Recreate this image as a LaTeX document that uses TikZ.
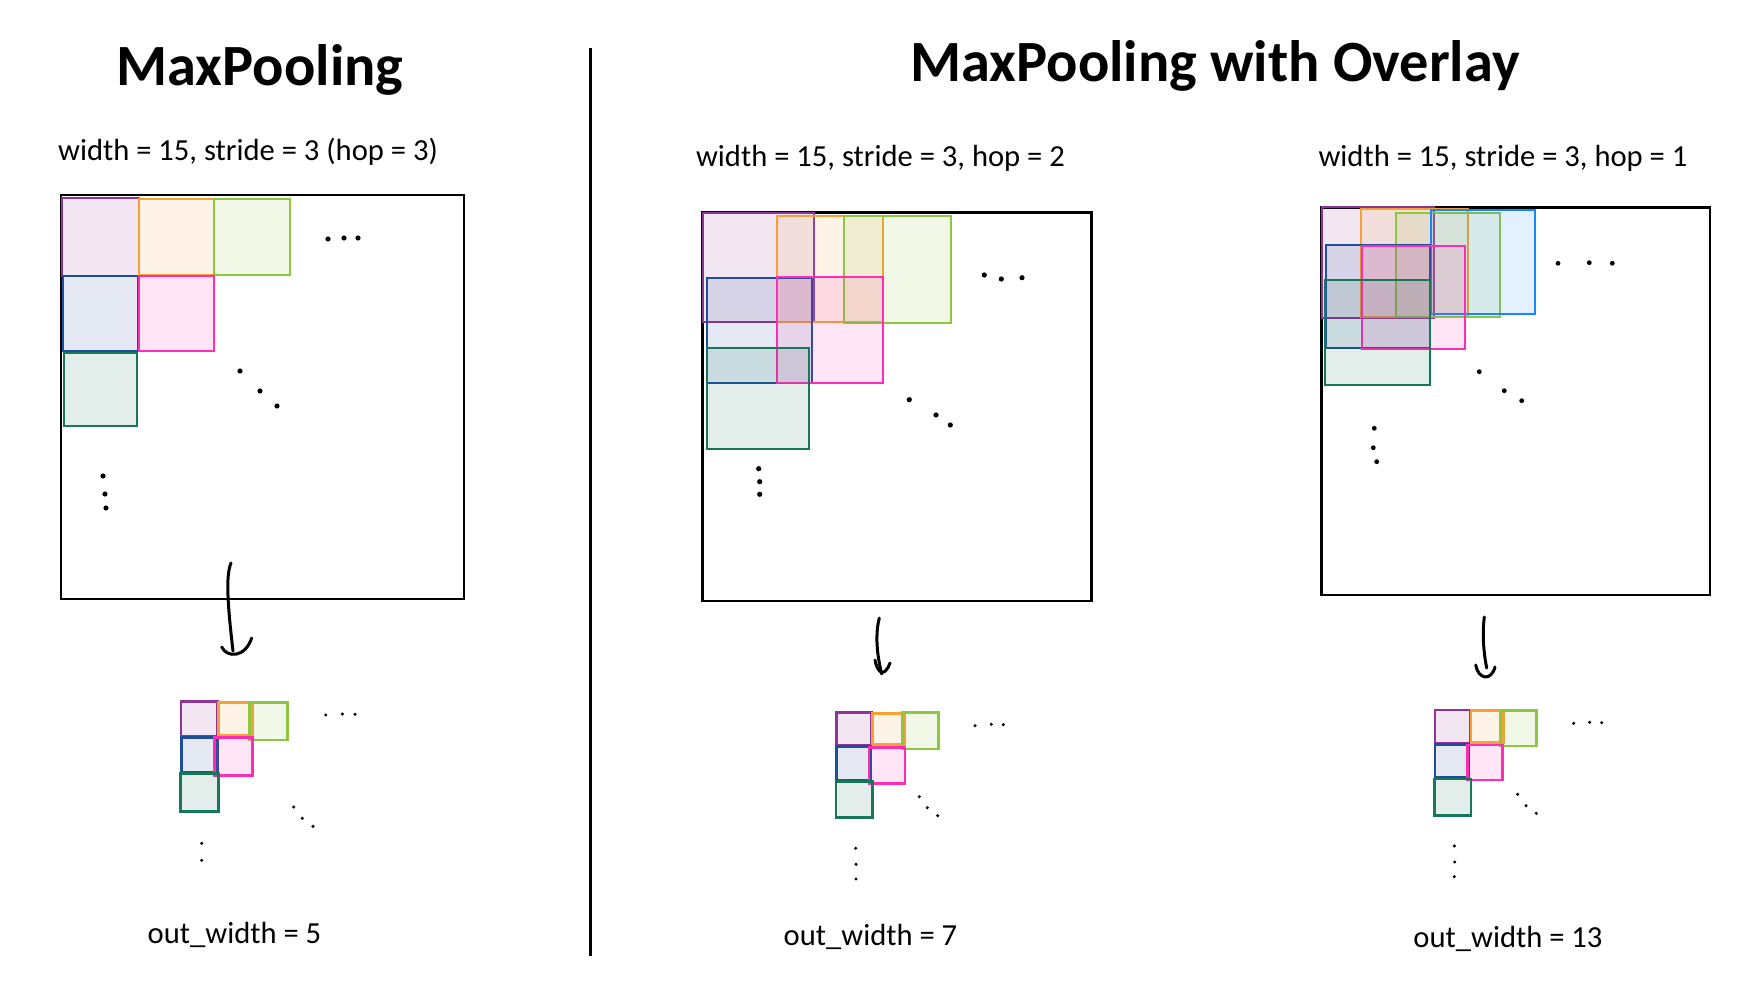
\documentclass[tikz,border=0pt]{standalone}
\usepackage{fontspec}
\setmainfont{Carlito}
\definecolor{cpur}{HTML}{8E3496}
\definecolor{cora}{HTML}{F7A035}
\definecolor{cgre}{HTML}{8DC63F}
\definecolor{cblu}{HTML}{1F4E9A}
\definecolor{cpin}{HTML}{FF2DB4}
\definecolor{ctea}{HTML}{16775A}
\definecolor{clbl}{HTML}{1A85FF}
\begin{document}
\begin{tikzpicture}[x=0.5pt,y=-0.5pt,
  bigbox/.style={draw=black,line width=1.25pt},
  win/.style={line width=1pt,fill opacity=0.12},
  swin/.style={line width=1.4pt,fill opacity=0.12},
  pur/.style={draw=cpur,fill=cpur},
  ora/.style={draw=cora,fill=cora},
  gre/.style={draw=cgre,fill=cgre},
  blu/.style={draw=cblu,fill=cblu},
  pin/.style={draw=cpin,fill=cpin},
  tea/.style={draw=ctea,fill=ctea},
  lbl/.style={draw=clbl,fill=clbl},
  hand/.style={line width=1.5pt,line cap=round,line join=round},
  title/.style={font=\fontsize{29.2}{36}\selectfont\bfseries,anchor=base,inner sep=0pt},
  sub/.style={font=\fontsize{15.3}{18}\selectfont,anchor=base,inner sep=0pt},
]
\useasboundingbox (0,0) rectangle (1758,1000);

% titles and labels
\node[title] (t1) at (260,86) {MaxPooling};
\node[title] (t2) at (1215,82) {MaxPooling with Overlay};
\node[sub] (s1) at (248,160.5) {width = 15, stride = 3 (hop = 3)};
\node[sub] (s2) at (880.5,167) {width = 15, stride = 3, hop = 2};
\node[sub] (s3) at (1503,167) {width = 15, stride = 3, hop = 1};
\node[sub] (o1) at (234.5,943) {out\_width = 5};
\node[sub] (o2) at (870.5,945) {out\_width = 7};
\node[sub] (o3) at (1508,947) {out\_width = 13};

% divider
\coordinate (d1) at (590,48);
\coordinate (d2) at (590,956);
\draw[line width=1.5pt] (d1) -- (d2);

% ===== left panel =====
\draw[bigbox] (61,195) rectangle (464,599);
\draw[win,pur] (61.7,198.3) rectangle (138.7,275.7);
\draw[win,ora] (139.3,199.3) rectangle (214,274.7);
\draw[win,gre] (214.3,199) rectangle (290,274.7);
\draw[win,blu] (62.7,276) rectangle (137.7,351);
\draw[win,pin] (139,275.7) rectangle (214.3,350.7);
\draw[win,tea] (63.7,353) rectangle (136.7,426);
\foreach \p in {(328,239),(344,238),(358,238),(240,371),(260,391),(277,406),(103,476),(105,494),(106,508)}
  \fill \p circle (1.3pt);

\coordinate (a1s) at (231,563);
\coordinate (a1e) at (233,651);
\draw[hand] (a1s) .. controls (226,575) and (227,600) .. (a1e);
\draw[hand] (221.7,647) .. controls (227,658) and (245,658) .. (251.7,638);

\draw[swin,pur] (181,701.7) rectangle (217.7,736.7);
\draw[swin,ora] (218.3,702.3) rectangle (252.3,735.7);
\draw[swin,gre] (249.3,702.3) rectangle (287.3,740);
\draw[swin,blu] (181.3,737.3) rectangle (217.3,772.3);
\draw[swin,pin] (214.3,737.7) rectangle (252.3,775.7);
\draw[swin,tea] (180.7,773.7) rectangle (218.7,811.7);
\foreach \p in {(325.7,715),(342.3,714),(355,714.3),(293.7,807),(302.3,818.3),(313,826.3),(201.7,843.3),(201.7,860.3)}
  \fill \p circle (0.85pt);

% ===== middle panel =====
\draw[bigbox] (702.7,212.7) rectangle (1091.7,601);
\draw[win,pur] (703.3,212.7) rectangle (814,322);
\draw[win,ora] (776.7,215.7) rectangle (882.7,322);
\draw[win,gre] (843.7,215.7) rectangle (950.7,322.7);
\draw[win,blu] (706.7,277.7) rectangle (812.3,382.7);
\draw[win,pin] (776.7,277) rectangle (882.7,382.7);
\draw[win,tea] (706.7,347.7) rectangle (809,449.3);
\foreach \p in {(984.3,275),(1001.3,279),(1022,277.7),(909.3,399.7),(936,415),(950.3,425),(758.7,468.7),(759.7,481.7),(759.7,494.3)}
  \fill \p circle (1.3pt);

\coordinate (a2s) at (879.3,618);
\coordinate (a2e) at (881.7,674);
\draw[hand] (a2s) .. controls (875,635) and (877,655) .. (a2e);
\draw[hand] (875,660) .. controls (877,672) and (884,679) .. (890,663);

\draw[swin,pur] (836.7,712.7) rectangle (871.7,745.7);
\draw[swin,ora] (872.3,713.3) rectangle (905,744.3);
\draw[swin,gre] (902.3,712.7) rectangle (938.3,749);
\draw[swin,blu] (836.7,746.7) rectangle (870.7,780);
\draw[swin,pin] (869,747.7) rectangle (905,783.7);
\draw[swin,tea] (836,781.7) rectangle (872.7,817.7);
\foreach \p in {(975,725.7),(991.3,724.3),(1003.3,724.7),(919.3,796.7),(927.3,807.7),(937.7,815.7),(855.7,848.3),(856,864.3),(856,879)}
  \fill \p circle (0.85pt);

% ===== right panel =====
\draw[bigbox] (1321.7,207.3) rectangle (1710,595);
\draw[win,pur] (1322.3,207.3) rectangle (1434.3,318.3);
\draw[win,ora] (1360.7,209.3) rectangle (1468,317);
\draw[win,gre] (1396,212.7) rectangle (1499.7,316.7);
\draw[win,lbl] (1431,210) rectangle (1535.3,314);
\draw[win,blu] (1325.7,245) rectangle (1430,348.3);
\draw[win,pin] (1361.7,245.7) rectangle (1465,349);
\draw[win,tea] (1324.7,279.7) rectangle (1430.3,384.7);
\foreach \p in {(1558,263.3),(1589.3,262.7),(1612.3,263.3),(1479.3,371.7),(1504.3,390.7),(1521.7,400.7),(1374.3,428.3),(1373.3,447.7),(1376.7,461.7)}
  \fill \p circle (1.2pt);

\coordinate (a3s) at (1484.3,617);
\coordinate (a3e) at (1486.7,668);
\draw[hand] (a3s) .. controls (1482,635) and (1484,655) .. (a3e);
\draw[hand] (1475.7,665) .. controls (1478,679) and (1491,682) .. (1495,667);

\draw[swin,pur] (1435,710) rectangle (1470,743.3);
\draw[swin,ora] (1471,710.7) rectangle (1503.3,742.3);
\draw[swin,gre] (1500.7,710.7) rectangle (1536.7,746);
\draw[swin,blu] (1435,744.3) rectangle (1468.3,777.7);
\draw[swin,pin] (1467.3,745) rectangle (1502.7,780);
\draw[swin,tea] (1434.3,779) rectangle (1471,815.7);
\foreach \p in {(1573.7,723.3),(1589.7,722.3),(1601.7,722.7),(1517.7,794.3),(1526,805.7),(1536.3,813.3),(1454.3,846),(1454.7,862),(1454.3,876.7)}
  \fill \p circle (0.85pt);
\end{tikzpicture}
\end{document}
